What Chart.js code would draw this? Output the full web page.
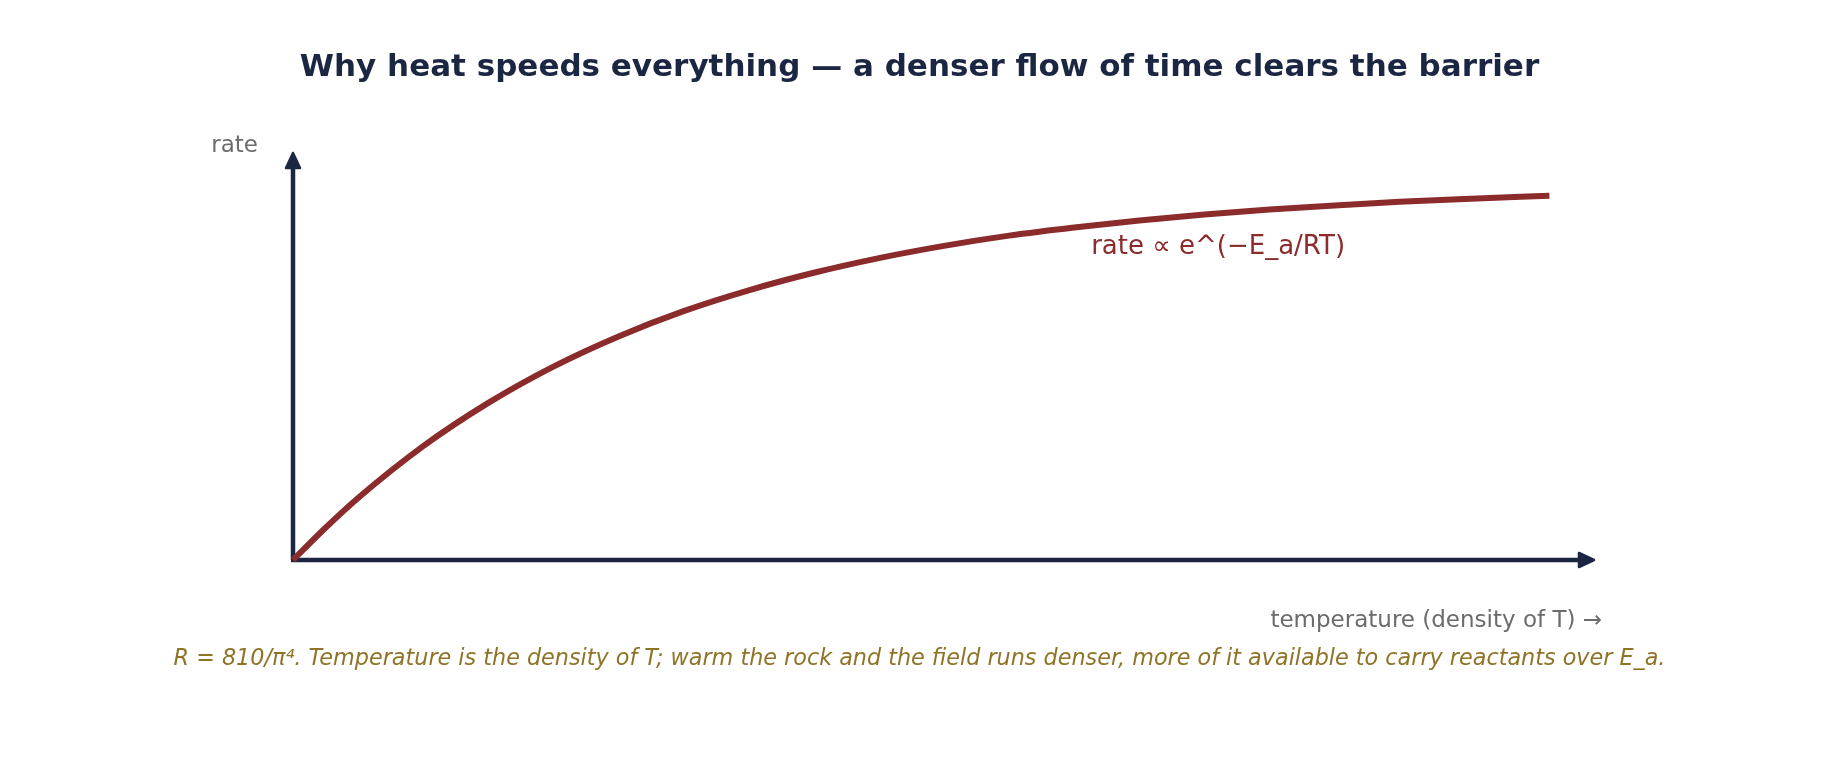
<!DOCTYPE html>
<html>
<head>
<meta charset="utf-8">
<script src="https://cdn.jsdelivr.net/npm/chart.js@4"></script>
<style>
  html, body { margin: 0; padding: 0; background: #fff; }
  #wrap { width: 1839px; height: 760px; position: relative; }
</style>
</head>
<body>
<div id="wrap"><canvas id="rateChart"></canvas></div>
<script>
// temperature (fraction of axis) and relative rate
const temperature = [0, 0.025, 0.05, 0.1, 0.15, 0.2, 0.25, 0.3, 0.35, 0.4, 0.45, 0.5, 0.55, 0.6, 0.65, 0.7, 0.75, 0.8, 0.85, 0.9, 0.965];
const rate        = [0, 0.079, 0.152, 0.279, 0.385, 0.474, 0.548, 0.61, 0.661, 0.704, 0.74, 0.77, 0.795, 0.815, 0.832, 0.847, 0.859, 0.869, 0.878, 0.885, 0.893];

const titleText = 'Why heat speeds everything \u2014 a denser flow of time clears the barrier';
const yLabel = 'rate';
const xLabel = 'temperature (density of T) \u2192';
const curveLabel = 'rate \u221d e^(\u2212E_a/RT)';
const footnote = 'R = 810/\u03c0\u2074. Temperature is the density of T; warm the rock and the field runs denser, more of it available to carry reactants over E_a.';

const NAVY = '#1b2642';
const RED = '#8b2b2b';
const GREY = '#6b6b6b';
const GOLD = '#8f7428';
const FONT = '"DejaVu Sans", sans-serif';

const points = temperature.map((t, i) => ({x: t, y: rate[i]}));

// axes with arrow heads + free text labels
const arrowAxes = {
    id: 'arrowAxes',
    beforeDatasetsDraw(chart) {
        const {ctx, chartArea: a} = chart;
        ctx.save();
        ctx.strokeStyle = NAVY;
        ctx.fillStyle = NAVY;
        ctx.lineWidth = 4.5;
        ctx.beginPath();
        ctx.moveTo(a.left, a.bottom);
        ctx.lineTo(a.left, a.top + 10);
        ctx.moveTo(a.left - 2, a.bottom);
        ctx.lineTo(a.right - 10, a.bottom);
        ctx.stroke();
        ctx.lineWidth = 2.5;
        ctx.lineJoin = 'round';
        // y arrow
        ctx.beginPath();
        ctx.moveTo(a.left, a.top + 1);
        ctx.lineTo(a.left - 7, a.top + 16);
        ctx.lineTo(a.left + 7, a.top + 16);
        ctx.closePath();
        ctx.fill();
        ctx.stroke();
        // x arrow
        ctx.beginPath();
        ctx.moveTo(a.right - 1, a.bottom);
        ctx.lineTo(a.right - 16, a.bottom - 7);
        ctx.lineTo(a.right - 16, a.bottom + 7);
        ctx.closePath();
        ctx.fill();
        ctx.stroke();
        ctx.restore();
    },
    afterDraw(chart) {
        const {ctx, chartArea: a, scales} = chart;
        ctx.save();
        ctx.textBaseline = 'alphabetic';

        ctx.fillStyle = NAVY;
        ctx.font = 'bold 31px ' + FONT;
        ctx.textAlign = 'center';
        ctx.fillText(titleText, chart.width / 2, 76);

        ctx.font = '23px ' + FONT;
        ctx.fillStyle = GREY;
        ctx.textAlign = 'right';
        ctx.fillText(yLabel, a.left - 35, a.top);
        ctx.fillText(xLabel, a.right + 7, a.bottom + 67);

        ctx.fillStyle = RED;
        ctx.font = '26px ' + FONT;
        ctx.textAlign = 'left';
        ctx.fillText(curveLabel, scales.x.getPixelForValue(0.613), scales.y.getPixelForValue(0.75));

        ctx.fillStyle = GOLD;
        ctx.font = 'italic 22.3px ' + FONT;
        ctx.textAlign = 'center';
        ctx.fillText(footnote, chart.width / 2, a.bottom + 105);
        ctx.restore();
    }
};

new Chart(document.getElementById('rateChart').getContext('2d'), {
    type: 'line',
    data: {
        datasets: [{
            data: points,
            borderColor: RED,
            borderWidth: 6,
            pointRadius: 0,
            cubicInterpolationMode: 'monotone',
            fill: false,
            clip: false
        }]
    },
    options: {
        responsive: true,
        maintainAspectRatio: false,
        animation: false,
        devicePixelRatio: 1,
        layout: {padding: {left: 293, right: 244, top: 152, bottom: 200}},
        scales: {
            x: {type: 'linear', min: 0, max: 1, display: false},
            y: {type: 'linear', min: 0, max: 1, display: false}
        },
        plugins: {
            legend: {display: false},
            tooltip: {enabled: false},
            title: {display: false}
        }
    },
    plugins: [arrowAxes]
});
</script>
</body>
</html>
